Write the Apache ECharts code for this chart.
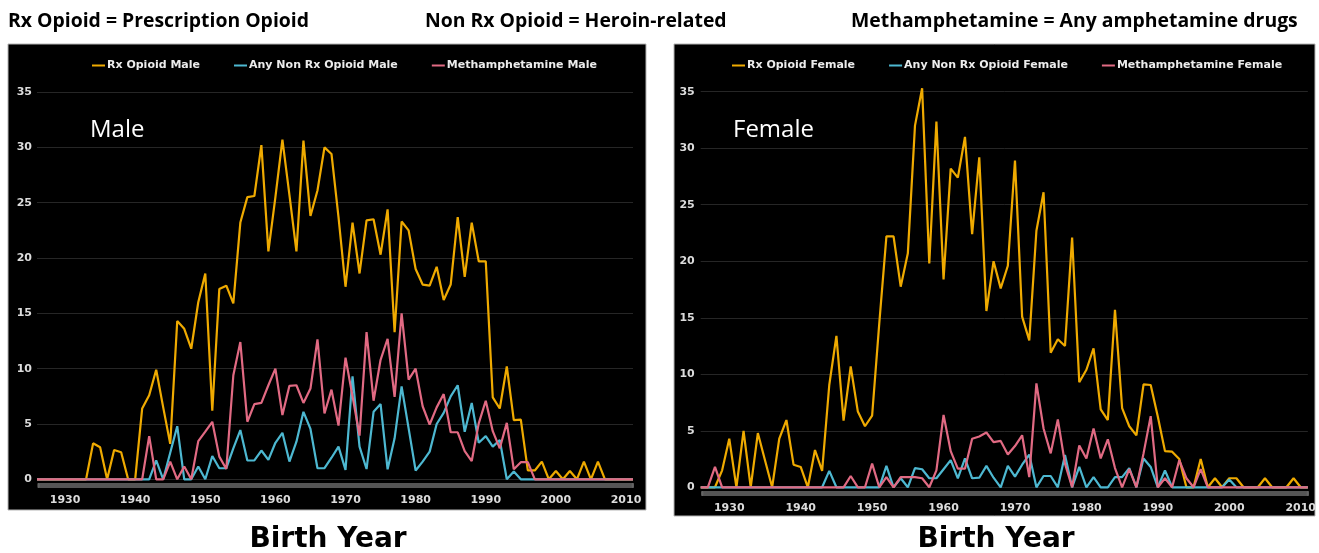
<!DOCTYPE html>
<html>
<head>
<meta charset="utf-8">
<script src="https://cdn.jsdelivr.net/npm/echarts@6/dist/echarts.min.js"></script>
<style>
html,body{margin:0;padding:0;background:#fff;}
#chart{width:1319px;height:553px;}
</style>
</head>
<body>
<div id="chart"></div>
<script>
const years = [1926,1927,1928,1929,1930,1931,1932,1933,1934,1935,1936,1937,1938,1939,1940,1941,1942,1943,1944,1945,1946,1947,1948,1949,1950,1951,1952,1953,1954,1955,1956,1957,1958,1959,1960,1961,1962,1963,1964,1965,1966,1967,1968,1969,1970,1971,1972,1973,1974,1975,1976,1977,1978,1979,1980,1981,1982,1983,1984,1985,1986,1987,1988,1989,1990,1991,1992,1993,1994,1995,1996,1997,1998,1999,2000,2001,2002,2003,2004,2005,2006,2007,2008,2009,2010,2011];
const yTicks = [0,5,10,15,20,25,30,35];

const rxMale = [0,0,0,0,0,0,0,0,3.25,2.9,0,2.65,2.45,0,0,6.4,7.6,9.9,6.5,3.2,14.3,13.6,11.8,16.0,18.6,6.2,17.2,17.5,15.9,23.2,25.5,25.6,30.2,20.6,25.5,30.7,25.7,20.6,30.6,23.8,26.1,30.0,29.4,23.7,17.4,23.2,18.6,23.4,23.5,20.3,24.4,13.3,23.3,22.5,19.0,17.6,17.5,19.2,16.2,17.6,23.7,18.3,23.2,19.7,19.7,7.4,6.4,10.2,5.35,5.4,0.8,0.8,1.6,0,0.75,0,0.75,0,1.6,0,1.6,0,0,0,0,0];
const nonRxMale = [0,0,0,0,0,0,0,0,0,0,0,0,0,0,0,0,0,1.7,0,2.4,4.8,0,0,1.15,0,2.1,1.0,1.0,2.8,4.45,1.7,1.7,2.6,1.75,3.3,4.2,1.6,3.4,6.1,4.55,1.0,1.0,1.95,2.95,0.85,9.3,2.95,0.93,6.1,6.8,0.9,3.7,8.4,4.6,0.8,1.6,2.5,5.0,6.0,7.5,8.5,4.3,6.9,3.3,3.9,2.95,3.55,0,0.7,0,0,0,0,0,0,0,0,0,0,0,0,0,0,0,0,0];
const methMale = [0,0,0,0,0,0,0,0,0,0,0,0,0,0,0,0,3.9,0,0,1.6,0,1.15,0,3.45,4.3,5.2,2.05,0.93,9.4,12.4,5.2,6.8,6.9,8.5,10.0,5.8,8.45,8.5,6.9,8.2,12.65,5.95,8.1,4.85,11.0,7.5,3.95,13.3,7.1,10.8,12.7,7.45,15.0,9.0,10.0,6.6,4.95,6.5,7.7,4.25,4.25,2.55,1.65,5.05,7.1,4.35,2.8,5.1,0.9,1.55,1.55,0,0,0,0,0,0,0,0,0,0,0,0,0,0,0];

const rxFemale = [0,0,0,1.5,4.3,0,5.0,0,4.8,2.4,0,4.3,5.95,2.0,1.8,0,3.3,1.45,9.05,13.4,5.9,10.7,6.7,5.4,6.35,14.5,22.2,22.2,17.75,20.7,32.0,35.3,19.8,32.35,18.4,28.2,27.4,31.0,22.4,29.2,15.6,20.0,17.6,19.6,28.9,15.1,13.0,22.7,26.1,11.9,13.1,12.5,22.1,9.3,10.4,12.3,6.9,5.95,15.7,7.0,5.4,4.6,9.1,9.05,6.25,3.2,3.15,2.5,0,0,2.5,0,0.8,0,0.8,0.8,0,0,0,0.8,0,0,0,0.8,0,0];
const nonRxFemale = [0,0,0,0,0,0,0,0,0,0,0,0,0,0,0,0,0,0,1.45,0,0,0,0,0,0,0,1.9,0,0.8,0,1.7,1.6,0.8,0.8,1.6,2.4,0.8,2.55,0.8,0.85,1.9,0.85,0,1.9,0.95,2.0,2.9,0,1.0,1.0,0,2.85,0,1.8,0,0.9,0,0,0.9,0.9,1.7,0,2.55,1.8,0,1.5,0,0,0,0,0,0,0,0,0.7,0,0,0,0,0,0,0,0,0,0,0];
const methFemale = [0,0,1.8,0,0,0,0,0,0,0,0,0,0,0,0,0,0,0,0,0,0,1.0,0,0,2.1,0,0.9,0,0.9,0.9,0.9,0.8,0,1.5,6.4,3.2,1.65,1.65,4.3,4.5,4.85,4.0,4.1,2.9,3.65,4.6,0.9,9.2,5.2,3.0,6.0,2.1,0,3.7,2.55,5.2,2.55,4.25,1.7,0,1.6,0,3.0,6.3,0,0.8,0,2.4,0.8,0,1.6,0,0,0,0,0,0,0,0,0,0,0,0,0,0,0];

const C_RX = '#EFAA00', C_NON = '#4DB8D1', C_METH = '#E16A83';
const FONT_AX = 'DejaVu Sans';
const chart = echarts.init(document.getElementById('chart'));

function xAxis(gi){
  return {
    type:'category', gridIndex:gi, data:years, boundaryGap:false,
    axisLine:{show:false}, axisTick:{show:false},
    axisLabel:{
      interval:(idx,val)=> Number(val)%10===0,
      color:'#dcdcdc', fontFamily:FONT_AX, fontWeight:'bold', fontSize:11, margin:15
    },
    splitLine:{show:false}
  };
}
function yAxis(gi, m){
  return {
    type:'value', gridIndex:gi, min:yTicks[0], max:yTicks[yTicks.length-1], interval:5,
    axisLine:{show:false}, axisTick:{show:false},
    axisLabel:{color:'#dcdcdc', fontFamily:FONT_AX, fontWeight:'bold', fontSize:11, margin:m},
    splitLine:{lineStyle:{color:'#262626', width:1}}
  };
}
function line(name, data, color, gi){
  return {name, type:'line', xAxisIndex:gi, yAxisIndex:gi, data, showSymbol:false, clip:false,
    lineStyle:{color, width:2.2}, itemStyle:{color}, emphasis:{disabled:true}};
}
function legend(names, left){
  return {data:names, left, top:55, itemWidth:13, itemHeight:2, itemGap:34, icon:'rect',
    textStyle:{color:'#ececec', fontFamily:FONT_AX, fontWeight:'bold', fontSize:11, padding:[0,0,0,-3]}};
}
function slider(xi, left, right, top){
  return {type:'slider', xAxisIndex:xi, start:0, end:100, left, right, top, height:5,
    showDetail:false, showDataShadow:false, brushSelect:false, zoomLock:true,
    backgroundColor:'#3c3c3c', fillerColor:'#555', borderColor:'transparent',
    handleSize:'100%', handleStyle:{color:'#666', borderColor:'#666'}, moveHandleSize:0};
}

const HFONT = 'bold 19.4px "Open Sans"';
const option = {
  backgroundColor:'#ffffff',
  animation:false,
  graphic:[
    {type:'rect', z:-10, shape:{x:8,y:44,width:638,height:466}, style:{fill:'#000', stroke:'#b5b5b5', lineWidth:1}},
    {type:'rect', z:-10, shape:{x:674,y:44,width:641,height:472}, style:{fill:'#000', stroke:'#b5b5b5', lineWidth:1}},
    {type:'text', style:{text:'Rx Opioid = Prescription Opioid', x:8, y:21, fill:'#000', font:HFONT, textVerticalAlign:'middle'}},
    {type:'text', style:{text:'Non Rx Opioid = Heroin-related', x:425, y:21, fill:'#000', font:HFONT, textVerticalAlign:'middle'}},
    {type:'text', style:{text:'Methamphetamine = Any amphetamine drugs', x:851, y:21, fill:'#000', font:HFONT, textVerticalAlign:'middle'}},
    {type:'text', style:{text:'Male', x:90, y:130, fill:'#fff', font:'24px "Open Sans"', textVerticalAlign:'middle'}},
    {type:'text', style:{text:'Female', x:733, y:130, fill:'#fff', font:'24px "Open Sans"', textVerticalAlign:'middle'}},
    {type:'text', style:{text:'Birth Year', x:328, y:540, fill:'#000', font:'bold 28px "DejaVu Sans"', textAlign:'center', textVerticalAlign:'middle'}},
    {type:'text', style:{text:'Birth Year', x:996, y:540, fill:'#000', font:'bold 28px "DejaVu Sans"', textAlign:'center', textVerticalAlign:'middle'}}
  ],
  legend:[
    legend(['Rx Opioid Male','Any Non Rx Opioid Male','Methamphetamine Male'], 87),
    legend(['Rx Opioid Female','Any Non Rx Opioid Female','Methamphetamine Female'], 727)
  ],
  grid:[
    {left:37, right:686, top:92, bottom:73.7},
    {left:700.7, right:11, top:91.7, bottom:65.7}
  ],
  xAxis:[xAxis(0), xAxis(1)],
  yAxis:[yAxis(0,5), yAxis(1,6)],
  dataZoom:[slider(0,37,686,483), slider(1,700.7,11,491)],
  series:[
    line('Rx Opioid Male', rxMale, C_RX, 0),
    line('Any Non Rx Opioid Male', nonRxMale, C_NON, 0),
    line('Methamphetamine Male', methMale, C_METH, 0),
    line('Rx Opioid Female', rxFemale, C_RX, 1),
    line('Any Non Rx Opioid Female', nonRxFemale, C_NON, 1),
    line('Methamphetamine Female', methFemale, C_METH, 1)
  ]
};
chart.setOption(option);
</script>
</body>
</html>
